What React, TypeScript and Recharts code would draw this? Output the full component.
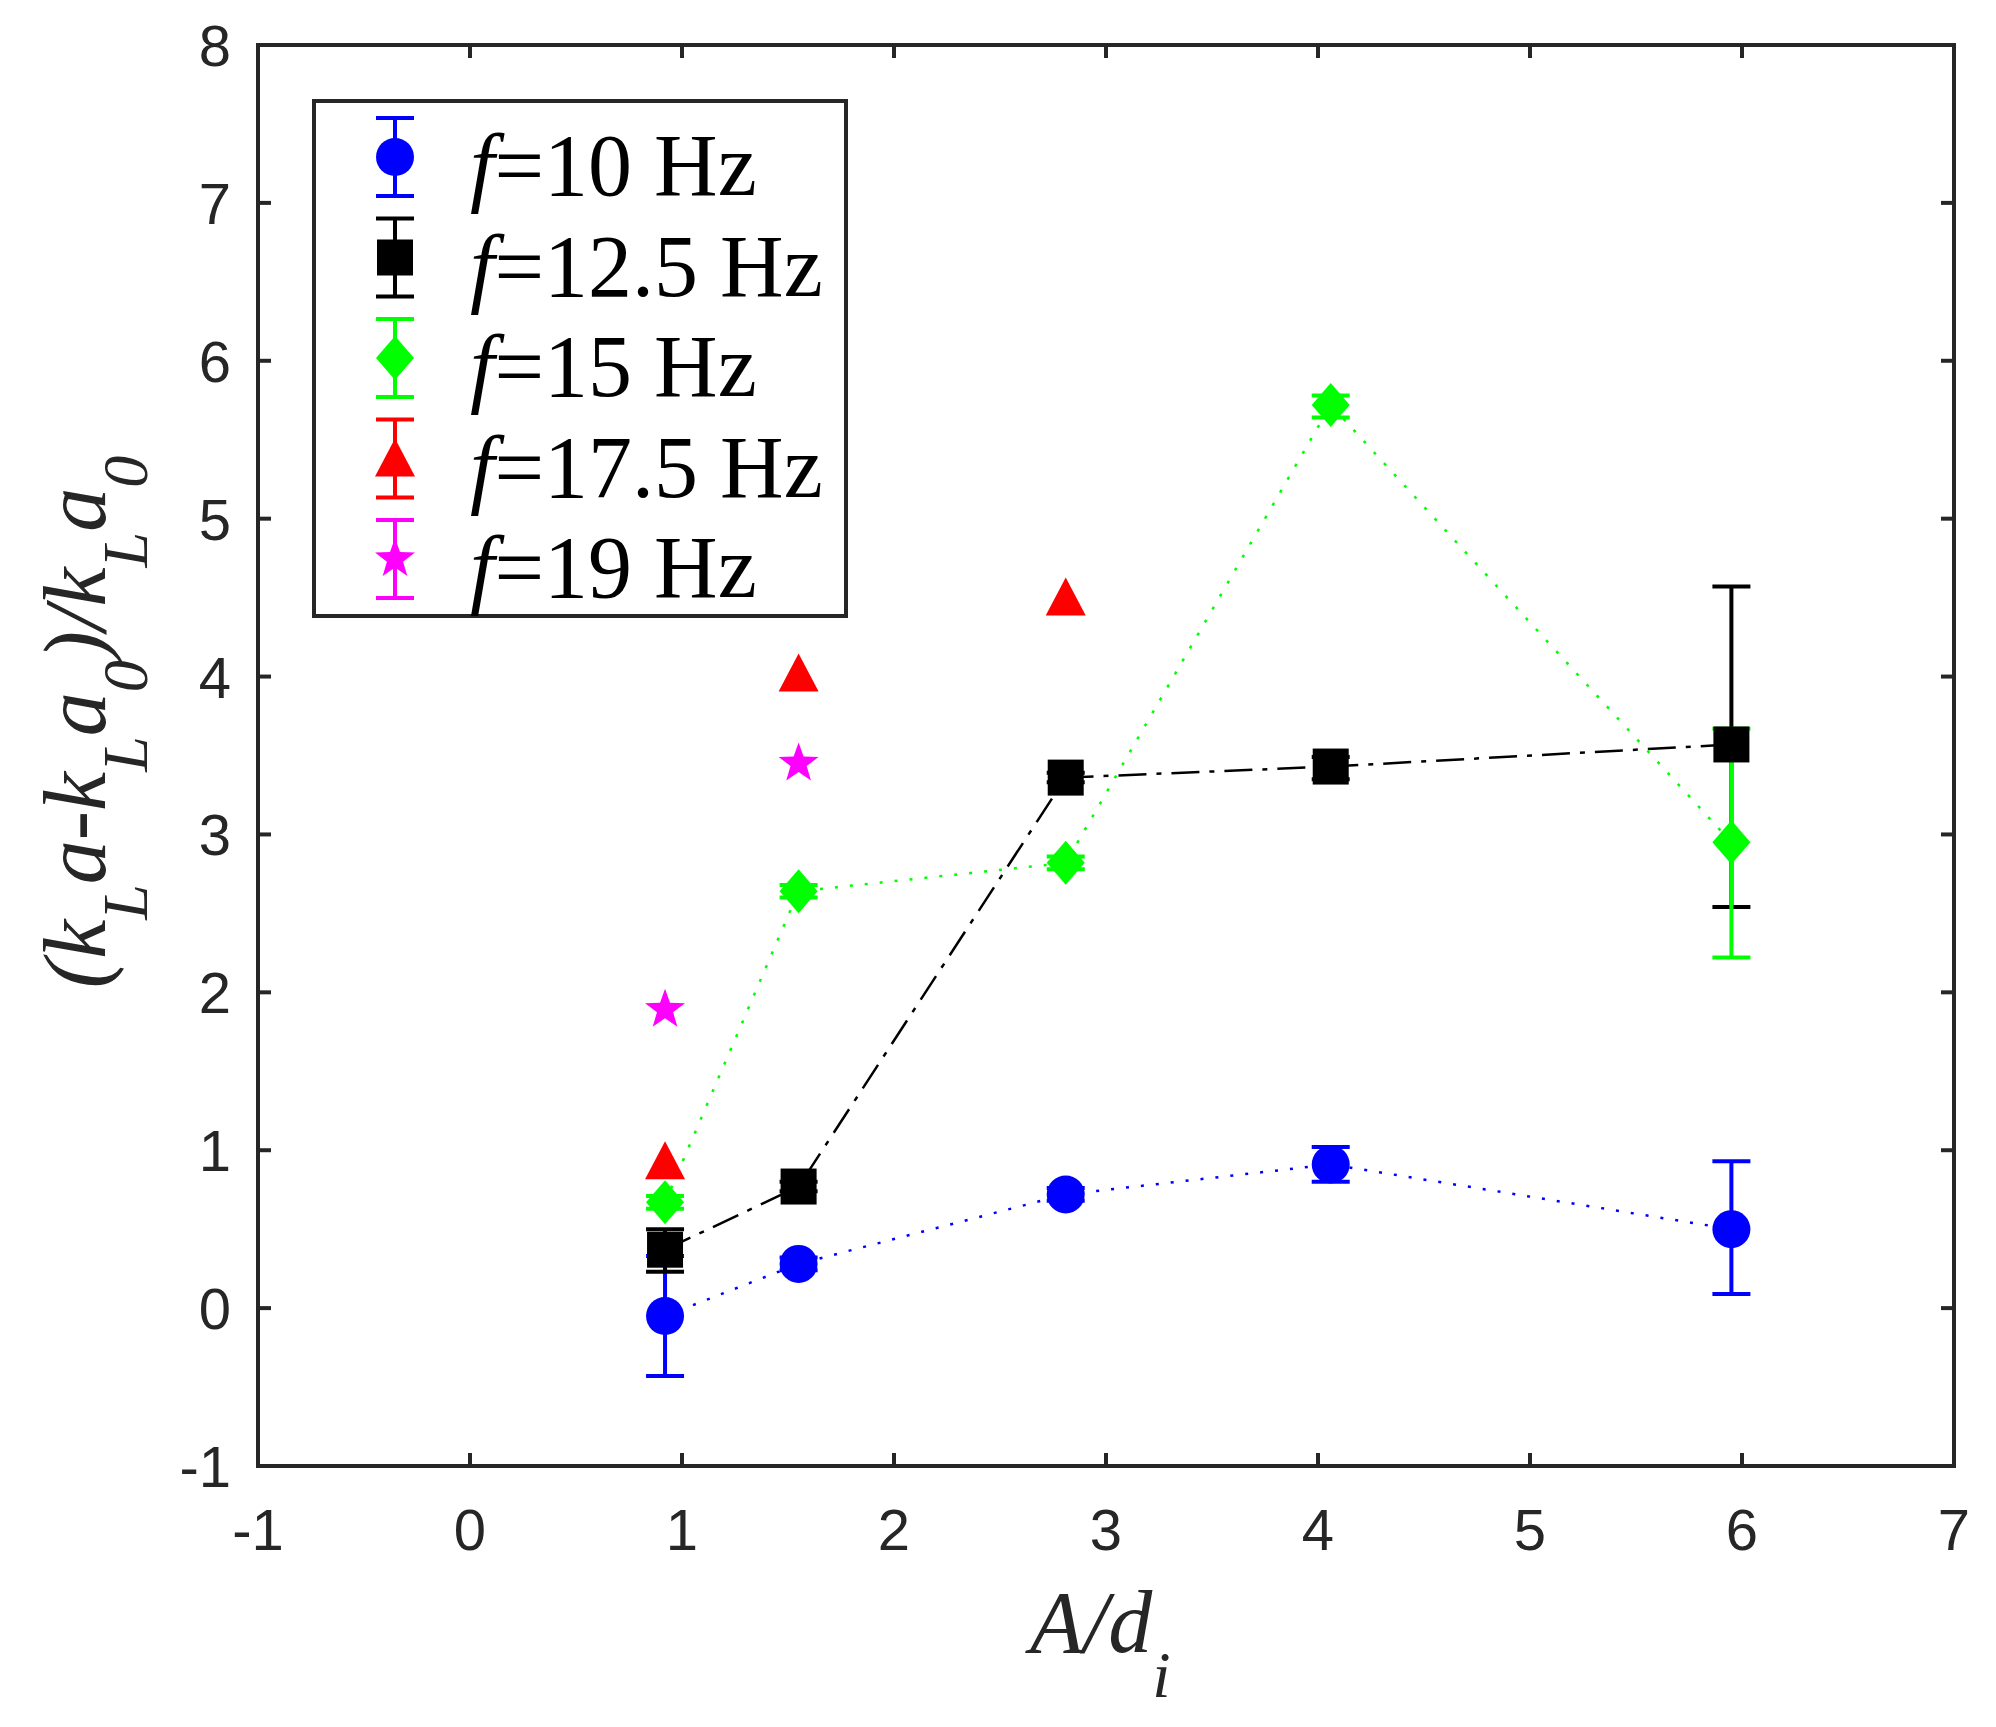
import { ScatterChart, Scatter, XAxis, YAxis, ErrorBar } from 'recharts';

// axis ticks
const xTicks = [-1, 0, 1, 2, 3, 4, 5, 6, 7];
const yTicks = [-1, 0, 1, 2, 3, 4, 5, 6, 7, 8];

// A/d_i positions shared by the series
const xPos = [0.92, 1.55, 2.81, 4.06, 5.95];

// f = 10 Hz
const y10 = [-0.05, 0.28, 0.72, 0.91, 0.5];
const lo10 = [-0.43, 0.24, 0.68, 0.8, 0.09];
const hi10 = [0.33, 0.32, 0.76, 1.02, 0.93];

// f = 12.5 Hz
const y125 = [0.37, 0.77, 3.36, 3.43, 3.57];
const lo125 = [0.23, 0.74, 3.33, 3.35, 2.54];
const hi125 = [0.5, 0.8, 3.39, 3.49, 4.57];

// f = 15 Hz
const y15 = [0.67, 2.64, 2.82, 5.72, 2.95];
const lo15 = [0.63, 2.6, 2.78, 5.64, 2.22];
const hi15 = [0.71, 2.68, 2.86, 5.78, 3.67];

// f = 17.5 Hz (error bars hidden by the markers)
const y175 = [0.93, 4.02, 4.5];

// f = 19 Hz (error bars hidden by the markers)
const y19 = [1.89, 3.45];

const legendLabels = ['=10 Hz', '=12.5 Hz', '=15 Hz', '=17.5 Hz', '=19 Hz'];

const AXIS = '#262626';
const TICK_FONT = '"Liberation Sans", Arial, Helvetica, sans-serif';
const SERIF = '"Liberation Serif", "Times New Roman", serif';

type Kind = 'circle' | 'square' | 'diamond' | 'triangle' | 'star';

function build(ys: number[], lo?: number[], hi?: number[]) {
  return ys.map((y, i) => ({
    x: xPos[i],
    y,
    err: lo && hi ? [y - lo[i], hi[i] - y] : [0, 0],
  }));
}

function Marker({ kind, cx, cy, color }: { kind: Kind; cx: number; cy: number; color: string }) {
  if (cx == null || cy == null) return null;
  switch (kind) {
    case 'circle':
      return <circle cx={cx} cy={cy} r={19} fill={color} />;
    case 'square':
      return <rect x={cx - 18} y={cy - 18} width={36} height={36} fill={color} />;
    case 'diamond':
      return (
        <polygon
          points={`${cx},${cy - 22} ${cx + 19},${cy} ${cx},${cy + 22} ${cx - 19},${cy}`}
          fill={color}
        />
      );
    case 'triangle':
      return (
        <polygon
          points={`${cx},${cy - 20} ${cx + 20},${cy + 18} ${cx - 20},${cy + 18}`}
          fill={color}
        />
      );
    default: {
      const pts: string[] = [];
      for (let k = 0; k < 10; k++) {
        const a = ((-90 + k * 36) * Math.PI) / 180;
        const r = k % 2 === 0 ? 21 : 8.5;
        pts.push(`${cx + r * Math.cos(a)},${cy + r * Math.sin(a)}`);
      }
      return <polygon points={pts.join(' ')} fill={color} />;
    }
  }
}

const series = [
  { name: 'f10', data: build(y10, lo10, hi10), color: '#0000ff', kind: 'circle' as Kind, dash: '3 12', err: true },
  { name: 'f125', data: build(y125, lo125, hi125), color: '#000000', kind: 'square' as Kind, dash: '28 10 5 10', err: true },
  { name: 'f15', data: build(y15, lo15, hi15), color: '#00ff00', kind: 'diamond' as Kind, dash: '3 12', err: true },
  { name: 'f175', data: build(y175), color: '#ff0000', kind: 'triangle' as Kind, dash: null, err: false },
  { name: 'f19', data: build(y19), color: '#ff00ff', kind: 'star' as Kind, dash: null, err: false },
];

function LeftTick(p: any) {
  const { x, y, payload } = p;
  return (
    <g>
      <line x1={x} x2={x + 13} y1={y} y2={y} stroke={AXIS} strokeWidth={4} />
      <text x={x - 27} y={y + 21} textAnchor="end" fontSize={58} fontFamily={TICK_FONT} fill={AXIS}>
        {payload.value}
      </text>
    </g>
  );
}

function RightTick(p: any) {
  const { x, y } = p;
  return <line x1={x} x2={x - 13} y1={y} y2={y} stroke={AXIS} strokeWidth={4} />;
}

function BottomTick(p: any) {
  const { x, y, payload } = p;
  return (
    <g>
      <line x1={x} x2={x} y1={y} y2={y - 13} stroke={AXIS} strokeWidth={4} />
      <text x={x} y={y + 84} textAnchor="middle" fontSize={58} fontFamily={TICK_FONT} fill={AXIS}>
        {payload.value}
      </text>
    </g>
  );
}

function TopTick(p: any) {
  const { x, y } = p;
  return <line x1={x} x2={x} y1={y} y2={y + 13} stroke={AXIS} strokeWidth={4} />;
}

const axisLine = { stroke: AXIS, strokeWidth: 4, strokeLinecap: 'square' as const };

function Overlay() {
  const rowY = (i: number) => 157 + i * 100.5;
  return (
    <svg
      width={1996}
      height={1727}
      style={{ position: 'absolute', left: 0, top: 0, pointerEvents: 'none' }}
    >
      {/* legend */}
      <rect x={314} y={101} width={532} height={515} fill="#fff" stroke={AXIS} strokeWidth={4} />
      {series.map((s, i) => {
        const cy = rowY(i);
        return (
          <g key={s.name}>
            <line x1={395} x2={395} y1={cy - 39} y2={cy + 39} stroke={s.color} strokeWidth={4} />
            <line x1={376} x2={414} y1={cy - 39} y2={cy - 39} stroke={s.color} strokeWidth={4} />
            <line x1={376} x2={414} y1={cy + 39} y2={cy + 39} stroke={s.color} strokeWidth={4} />
            <Marker kind={s.kind} cx={395} cy={cy} color={s.color} />
            <text x={470} y={cy + 38} fontSize={88} fontFamily={SERIF} fill="#000">
              <tspan fontStyle="italic">f</tspan>
              {legendLabels[i]}
            </text>
          </g>
        );
      })}

      {/* x label */}
      <text x={1030} y={1652} fontSize={88} fontFamily={SERIF} fontStyle="italic" fill={AXIS}>
        A/d
        <tspan fontSize={66} dy={45}>i</tspan>
      </text>

      {/* y label */}
      <text
        x={105}
        y={722}
        transform="rotate(-90 105 722)"
        textAnchor="middle"
        fontSize={88}
        fontFamily={SERIF}
        fontStyle="italic"
        fill={AXIS}
      >
        (k<tspan fontSize={64} dy={42}>L</tspan>
        <tspan dy={-42}>a-k</tspan>
        <tspan fontSize={64} dy={42}>L</tspan>
        <tspan dy={-42}>a</tspan>
        <tspan fontSize={64} dy={42}>0</tspan>
        <tspan dy={-42}>)/k</tspan>
        <tspan fontSize={64} dy={42}>L</tspan>
        <tspan dy={-42}>a</tspan>
        <tspan fontSize={64} dy={42}>0</tspan>
      </text>
    </svg>
  );
}

export default function App() {
  return (
    <div style={{ position: 'absolute', left: 0, top: 0, width: 1996, height: 1727, background: '#fff' }}>
      <ScatterChart width={1996} height={1727} margin={{ top: 44, right: 41, bottom: 0, left: 0 }}>
        <XAxis
          xAxisId={0}
          type="number"
          dataKey="x"
          domain={[-1, 7]}
          ticks={xTicks}
          interval={0}
          height={261}
          tickSize={0}
          tickMargin={0}
          tickLine={false}
          axisLine={axisLine}
          tick={(p: any) => <BottomTick {...p} />}
          allowDataOverflow
        />
        <XAxis
          xAxisId={1}
          orientation="top"
          type="number"
          dataKey="x"
          domain={[-1, 7]}
          ticks={xTicks}
          interval={0}
          height={1}
          tickSize={0}
          tickMargin={0}
          tickLine={false}
          axisLine={axisLine}
          tick={(p: any) => <TopTick {...p} />}
          allowDataOverflow
        />
        <YAxis
          yAxisId={0}
          type="number"
          dataKey="y"
          domain={[-1, 8]}
          ticks={yTicks}
          interval={0}
          width={258}
          tickSize={0}
          tickMargin={0}
          tickLine={false}
          axisLine={axisLine}
          tick={(p: any) => <LeftTick {...p} />}
          allowDataOverflow
        />
        <YAxis
          yAxisId={1}
          orientation="right"
          type="number"
          dataKey="y"
          domain={[-1, 8]}
          ticks={yTicks}
          interval={0}
          width={1}
          tickSize={0}
          tickMargin={0}
          tickLine={false}
          axisLine={axisLine}
          tick={(p: any) => <RightTick {...p} />}
          allowDataOverflow
        />
        {/* invisible series that binds the mirrored top/right axes */}
        <Scatter
          name="box"
          data={series[0].data}
          xAxisId={1}
          yAxisId={1}
          isAnimationActive={false}
          shape={() => <g />}
          legendType="none"
        />
        {series.map((s) => (
          <Scatter
            key={s.name}
            name={s.name}
            data={s.data}
            fill={s.color}
            xAxisId={0}
            yAxisId={0}
            isAnimationActive={false}
            line={s.dash ? { stroke: s.color, strokeWidth: 2.5, strokeDasharray: s.dash } : false}
            shape={(p: any) => <Marker kind={s.kind} cx={p.cx} cy={p.cy} color={s.color} />}
          >
            {s.err && (
              <ErrorBar
                dataKey="err"
                direction="y"
                width={19}
                strokeWidth={4}
                stroke={s.color}
                isAnimationActive={false}
              />
            )}
          </Scatter>
        ))}
      </ScatterChart>
      <Overlay />
    </div>
  );
}
